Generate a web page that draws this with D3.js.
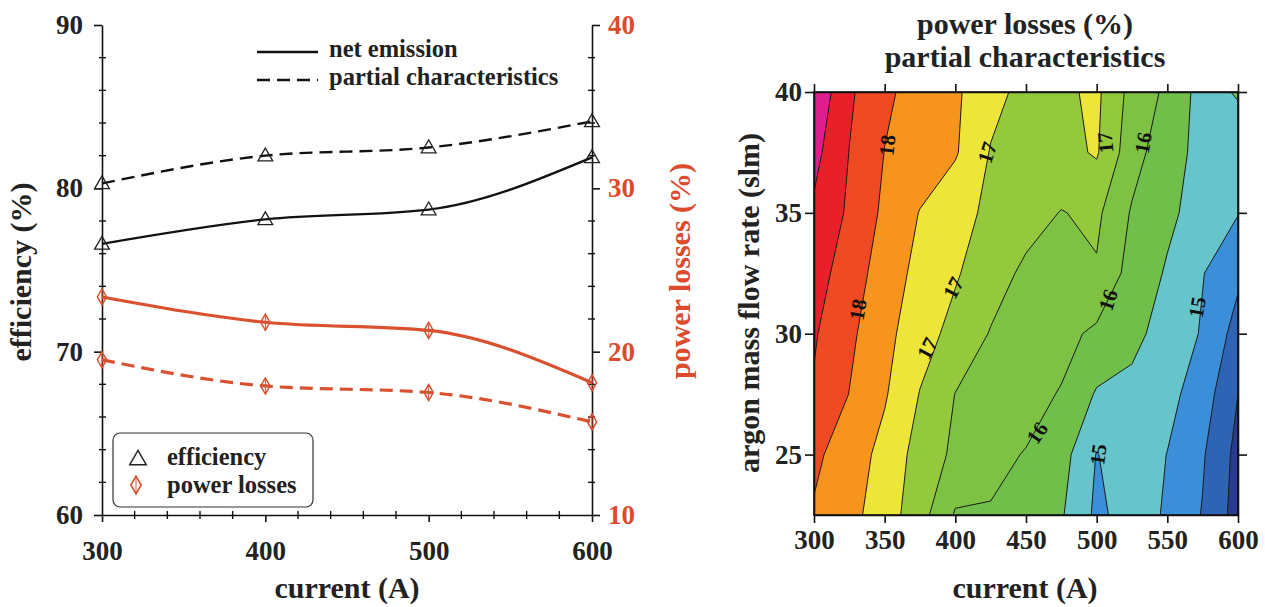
<!DOCTYPE html>
<html><head><meta charset="utf-8">
<script src="https://cdn.jsdelivr.net/npm/d3@7"></script>
<style>
body{margin:0;background:#fff}
svg{display:block}
text{font-family:"Liberation Serif","Times New Roman",serif;font-weight:bold}
</style>
</head><body>
<svg id="c" width="1265" height="607"></svg>
<script>
// ---------- data: left chart ----------
const currents = [300, 400, 500, 600];
const effNet = [76.6, 78.1, 78.7, 81.9];
const effPartial = [80.3, 82.0, 82.5, 84.1];
const lossNet = [23.35, 21.8, 21.3, 18.1];
const lossPartial = [19.5, 17.9, 17.5, 15.7];
const effTicks = [60, 70, 80, 90];
const lossTicks = [10, 20, 30, 40];
const curTicks = [300, 400, 500, 600];

// ---------- data: right chart (power losses %, partial characteristics) ----------
const gridCurrent = [300, 325, 350, 375, 400, 425, 450, 475, 500, 525, 550, 575, 600];
const gridFlow = [40, 37.5, 35, 32.5, 30, 27.5, 25, 22.5];
const lossRow40   = [19.40, 18.58, 18.09, 17.81, 17.58, 17.16, 16.85, 16.90, 17.10, 16.33, 15.90, 15.30, 15.55];
const lossRow37_5 = [19.15, 18.49, 17.99, 17.77, 17.55, 16.97, 16.80, 16.85, 17.05, 16.20, 15.70, 15.35, 15.20];
const lossRow35   = [18.92, 18.42, 17.90, 17.48, 17.17, 16.90, 16.70, 16.48, 16.60, 15.95, 15.60, 15.30, 15.02];
const lossRow32_5 = [18.70, 18.27, 17.75, 17.36, 17.05, 16.72, 16.40, 16.30, 16.45, 15.80, 15.45, 15.02, 14.60];
const lossRow30   = [18.55, 18.10, 17.65, 17.20, 16.85, 16.47, 16.30, 16.15, 15.90, 15.60, 15.35, 14.95, 14.30];
const lossRow27_5 = [18.45, 17.99, 17.55, 16.98, 16.49, 16.30, 16.15, 15.97, 15.45, 15.40, 15.15, 14.75, 14.00];
const lossRow25   = [18.10, 17.75, 17.35, 16.80, 16.40, 16.10, 15.98, 15.70, 14.98, 15.30, 14.99, 14.55, 13.85];
const lossRow22_5 = [17.95, 17.65, 17.25, 16.70, 15.95, 15.97, 15.85, 15.55, 14.90, 15.20, 14.95, 14.47, 13.80];
const contourLevels = [14, 14.5, 15, 15.5, 16, 16.5, 17, 17.5, 18, 18.5, 19];
const contourLabels = [
  {value: 18, current: 351.7, flow: 37.8, angle: -84},
  {value: 18, current: 331.0, flow: 31.0, angle: -80},
  {value: 17, current: 422.4, flow: 37.5, angle: -72},
  {value: 17, current: 398.4, flow: 31.9, angle: -62},
  {value: 17, current: 380.0, flow: 29.4, angle: -62},
  {value: 17, current: 506.0, flow: 37.9, angle: -95},
  {value: 16, current: 532.8, flow: 37.9, angle: -80},
  {value: 16, current: 508.0, flow: 31.4, angle: -72},
  {value: 16, current: 457.8, flow: 25.9, angle: -55},
  {value: 15, current: 571.0, flow: 31.1, angle: -80},
  {value: 15, current: 501.0, flow: 25.0, angle: -82}
];

// ---------- styles ----------
const RED = '#d9512f';
const RED_TXT = '#dd4a2c';
const bandBase = '#2a3b8f';
const bandColors = ['#2f63b4', '#3b8fd8', '#66c5cb', '#70bf4b', '#7dc243', '#95c93d', '#eee53a', '#f7941d', '#ef4a24', '#e8202a', '#e01d8c'];

const svg = d3.select('#c');
svg.append('rect').attr('width', 1265).attr('height', 607).attr('fill', '#fff');

function styleAxis(g, size, color) {
  g.select('.domain').attr('stroke', '#111').attr('stroke-width', 1.6);
  g.selectAll('.tick line').attr('stroke', '#111').attr('stroke-width', 1.6);
  g.selectAll('.tick text').attr('font-size', size).attr('font-weight', 'bold')
    .attr('font-family', '"Liberation Serif","Times New Roman",serif').attr('fill', color || '#222');
}

// ================= LEFT CHART =================
const xL = d3.scaleLinear().domain([300, 600]).range([102, 592]);
const yE = d3.scaleLinear().domain([60, 90]).range([515, 25]);
const yP = d3.scaleLinear().domain([10, 40]).range([515, 25]);
const gL = svg.append('g');

// minor ticks
const minorY = d3.range(60, 91, 2).filter(v => v % 10 !== 0);
const minorX = d3.range(300, 601, 20).filter(v => v % 100 !== 0);
gL.selectAll('.mly').data(minorY).join('line')
  .attr('x1', xL(300) - 3).attr('x2', xL(300) + 4).attr('y1', d => yE(d)).attr('y2', d => yE(d))
  .attr('stroke', '#111').attr('stroke-width', 1.4);
gL.selectAll('.mry').data(minorY).join('line')
  .attr('x1', xL(600) - 4).attr('x2', xL(600) + 3).attr('y1', d => yE(d)).attr('y2', d => yE(d))
  .attr('stroke', '#111').attr('stroke-width', 1.4);
gL.selectAll('.mx').data(minorX).join('line')
  .attr('x1', d => xL(d)).attr('x2', d => xL(d)).attr('y1', yE(60) - 4).attr('y2', yE(60) + 4)
  .attr('stroke', '#111').attr('stroke-width', 1.4);

const axL = gL.append('g').attr('transform', `translate(${xL(300)},0)`)
  .call(d3.axisLeft(yE).tickValues(effTicks).tickSize(8).tickSizeOuter(0).tickPadding(11));
styleAxis(axL, 27);
const axR = gL.append('g').attr('transform', `translate(${xL(600)},0)`)
  .call(d3.axisRight(yP).tickValues(lossTicks).tickSize(8).tickSizeOuter(0).tickPadding(8));
styleAxis(axR, 27, RED_TXT);
const axB = gL.append('g').attr('transform', `translate(0,${yE(60)})`)
  .call(d3.axisBottom(xL).tickValues(curTicks).tickSize(7).tickSizeOuter(0).tickPadding(19));
styleAxis(axB, 27);

// lines
const lineE = d3.line().x((d, i) => xL(currents[i])).y(d => yE(d)).curve(d3.curveMonotoneX);
const lineP = d3.line().x((d, i) => xL(currents[i])).y(d => yP(d)).curve(d3.curveMonotoneX);
gL.append('path').attr('d', lineP(lossNet)).attr('fill', 'none').attr('stroke', RED).attr('stroke-width', 3.2);
gL.append('path').attr('d', lineP(lossPartial)).attr('fill', 'none').attr('stroke', RED).attr('stroke-width', 3.2).attr('stroke-dasharray', '13,7');
gL.append('path').attr('d', lineE(effNet)).attr('fill', 'none').attr('stroke', '#111').attr('stroke-width', 2.4);
gL.append('path').attr('d', lineE(effPartial)).attr('fill', 'none').attr('stroke', '#111').attr('stroke-width', 2.4).attr('stroke-dasharray', '13,7');

const tri = d3.symbol().type(d3.symbolTriangle).size(95);
const dia = d3.symbol().type(d3.symbolDiamond).size(75);
[effNet, effPartial].forEach(series => {
  gL.append('g').selectAll('path').data(series).join('path')
    .attr('d', tri).attr('transform', (d, i) => `translate(${xL(currents[i])},${yE(d) + 1})`)
    .attr('fill', 'none').attr('stroke', '#222').attr('stroke-width', 1.3);
});
[lossNet, lossPartial].forEach(series => {
  const g = gL.append('g');
  g.selectAll('line').data(series).join('line')
    .attr('x1', (d, i) => xL(currents[i])).attr('x2', (d, i) => xL(currents[i]))
    .attr('y1', d => yP(d) - 8).attr('y2', d => yP(d) + 8)
    .attr('stroke', RED).attr('stroke-width', 1);
  g.selectAll('path').data(series).join('path')
    .attr('d', dia).attr('transform', (d, i) => `translate(${xL(currents[i])},${yP(d)})`)
    .attr('fill', 'none').attr('stroke', RED).attr('stroke-width', 1.5);
});

// top legend
gL.append('line').attr('x1', 257).attr('x2', 318).attr('y1', 52).attr('y2', 52).attr('stroke', '#111').attr('stroke-width', 2.6);
gL.append('line').attr('x1', 257).attr('x2', 318).attr('y1', 80).attr('y2', 80).attr('stroke', '#111').attr('stroke-width', 2.6).attr('stroke-dasharray', '13,7');
gL.append('text').attr('x', 329).attr('y', 57).attr('font-size', 24.5).attr('fill', '#222').text('net emission');
gL.append('text').attr('x', 329).attr('y', 85).attr('font-size', 24.5).attr('fill', '#222').text('partial characteristics');

// bottom legend
gL.append('rect').attr('x', 113).attr('y', 433).attr('width', 200).attr('height', 74).attr('rx', 7)
  .attr('fill', '#fff').attr('stroke', '#333').attr('stroke-width', 1.2);
gL.append('path').attr('d', d3.symbol().type(d3.symbolTriangle).size(120)).attr('transform', 'translate(138,460)')
  .attr('fill', 'none').attr('stroke', '#222').attr('stroke-width', 1.4);
gL.append('line').attr('x1', 136).attr('x2', 136).attr('y1', 476).attr('y2', 494).attr('stroke', RED).attr('stroke-width', 1);
gL.append('path').attr('d', d3.symbol().type(d3.symbolDiamond).size(90)).attr('transform', 'translate(136,485)')
  .attr('fill', 'none').attr('stroke', RED).attr('stroke-width', 1.6);
gL.append('text').attr('x', 167).attr('y', 465).attr('font-size', 24.5).attr('fill', '#222').text('efficiency');
gL.append('text').attr('x', 167).attr('y', 493).attr('font-size', 24.5).attr('fill', '#222').text('power losses');

// axis titles
gL.append('text').attr('transform', 'translate(31,272) rotate(-90)').attr('text-anchor', 'middle')
  .attr('font-size', 30).attr('fill', '#222').text('efficiency (%)');
gL.append('text').attr('transform', 'translate(690,271) rotate(-90)').attr('text-anchor', 'middle')
  .attr('font-size', 30).attr('fill', RED_TXT).text('power losses (%)');
gL.append('text').attr('x', 347).attr('y', 598).attr('text-anchor', 'middle')
  .attr('font-size', 30).attr('fill', '#222').text('current (A)');

// ================= RIGHT CHART =================
const xR = d3.scaleLinear().domain([300, 600]).range([814, 1238]);
const yR = d3.scaleLinear().domain([22.5, 40]).range([515, 92]);
const gR = svg.append('g');

svg.append('defs').append('clipPath').attr('id', 'plotclip')
  .append('rect').attr('x', xR(300)).attr('y', yR(40)).attr('width', xR(600) - xR(300)).attr('height', yR(22.5) - yR(40));

const nx = gridCurrent.length, ny = gridFlow.length;
const lossGrid = [lossRow40, lossRow37_5, lossRow35, lossRow32_5, lossRow30, lossRow27_5, lossRow25, lossRow22_5];
const values = lossGrid.flat();
const contours = d3.contours().size([nx, ny]).thresholds(contourLevels)(values);
const gIdxX = d3.scaleLinear().domain([0.5, nx - 0.5]).range([gridCurrent[0], gridCurrent[nx - 1]]);
const gIdxY = d3.scaleLinear().domain([0.5, ny - 0.5]).range([gridFlow[0], gridFlow[ny - 1]]);
const proj = d3.geoTransform({
  point: function(x, y) { this.stream.point(xR(gIdxX(x)), yR(gIdxY(y))); }
});
const cpath = d3.geoPath(proj);

const gC = gR.append('g').attr('clip-path', 'url(#plotclip)');
gC.append('rect').attr('x', xR(300)).attr('y', yR(40)).attr('width', xR(600) - xR(300)).attr('height', yR(22.5) - yR(40)).attr('fill', bandBase);
gC.selectAll('path.band').data(contours).join('path').attr('class', 'band')
  .attr('d', cpath).attr('fill', (d, i) => bandColors[i]).attr('fill-rule', 'evenodd').attr('stroke', 'none');
gC.selectAll('path.iso').data(contours).join('path').attr('class', 'iso')
  .attr('d', cpath).attr('fill', 'none').attr('stroke', '#1a1a1a').attr('stroke-width', 1);

// contour labels
gC.selectAll('text.cl').data(contourLabels).join('text').attr('class', 'cl')
  .attr('transform', d => `translate(${xR(d.current)},${yR(d.flow)}) rotate(${d.angle})`)
  .attr('text-anchor', 'middle').attr('dy', '0.35em').attr('font-size', 21).attr('fill', '#111')
  .text(d => d.value);

// frame and axes
gR.append('rect').attr('x', xR(300)).attr('y', yR(40)).attr('width', xR(600) - xR(300)).attr('height', yR(22.5) - yR(40))
  .attr('fill', 'none').attr('stroke', '#111').attr('stroke-width', 1.6);
const xRTicks = [300, 350, 400, 450, 500, 550, 600];
const yRTicks = [25, 30, 35, 40];
const rb = gR.append('g').attr('transform', `translate(0,${yR(22.5)})`)
  .call(d3.axisBottom(xR).tickValues(xRTicks).tickSize(8).tickSizeOuter(0).tickPadding(7));
styleAxis(rb, 27);
const rt = gR.append('g').attr('transform', `translate(0,${yR(40)})`)
  .call(d3.axisTop(xR).tickValues(xRTicks).tickSize(8).tickSizeOuter(0).tickFormat(''));
styleAxis(rt, 27);
const rl = gR.append('g').attr('transform', `translate(${xR(300)},0)`)
  .call(d3.axisLeft(yR).tickValues(yRTicks).tickSize(9).tickSizeOuter(0).tickPadding(3));
styleAxis(rl, 27);
const rr = gR.append('g').attr('transform', `translate(${xR(600)},0)`)
  .call(d3.axisRight(yR).tickValues(yRTicks).tickSize(9).tickSizeOuter(0).tickFormat(''));
styleAxis(rr, 27);

gR.append('text').attr('x', 1025).attr('y', 34).attr('text-anchor', 'middle').attr('font-size', 30).attr('fill', '#222').text('power losses (%)');
gR.append('text').attr('x', 1025).attr('y', 67).attr('text-anchor', 'middle').attr('font-size', 30).attr('fill', '#222').text('partial characteristics');
gR.append('text').attr('transform', 'translate(759,303) rotate(-90)').attr('text-anchor', 'middle')
  .attr('font-size', 30).attr('fill', '#222').text('argon mass flow rate (slm)');
gR.append('text').attr('x', 1025).attr('y', 598).attr('text-anchor', 'middle')
  .attr('font-size', 30).attr('fill', '#222').text('current (A)');
</script>
</body></html>
